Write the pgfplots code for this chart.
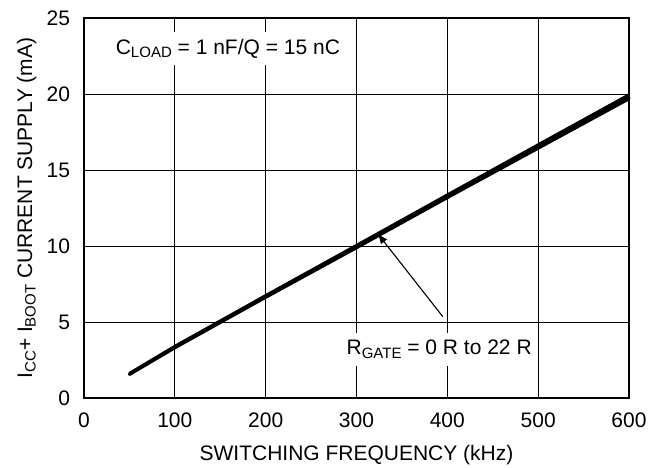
\documentclass[border=0pt]{standalone}
\usepackage{fontspec}
\setmainfont{Liberation Sans}
\usepackage{pgfplots}
\pgfplotsset{compat=1.18}
\usetikzlibrary{calc,arrows.meta}
\newcommand\sub[1]{\raisebox{-3.5pt}{\fontsize{15}{15}\selectfont #1}}
\begin{document}
\begin{tikzpicture}
\begin{axis}[
  scale only axis,
  width=545pt, height=380pt,
  xmin=0, xmax=600, ymin=0, ymax=25,
  xtick={0,100,...,600}, ytick={0,5,...,25},
  grid=major,
  major grid style={black, line width=0.8pt},
  axis line style={line width=1.4pt},
  major tick length=0pt,
  tick style={draw=none},
  /pgf/number format/assume math mode=true,
  ticklabel style={font=\fontsize{21}{24}\selectfont},
  xticklabel style={anchor=base, yshift=-29pt},
  yticklabel style={anchor=east, xshift=-10.5pt},
  label style={font=\fontsize{21}{24}\selectfont},
  xlabel={SWITCHING FREQUENCY (kHz)},
  ylabel={I\sub{CC}+ I\sub{BOOT} CURRENT SUPPLY (mA)},
  xlabel style={at={(axis description cs:0.5,-0.1632)}, anchor=base},
  ylabel style={at={(axis description cs:-0.0954,0.5)}, anchor=base, rotate=0},
  clip=false,
]
\addplot[black, line width=3.5pt, line cap=round] coordinates {
 (50,1.56) (100,3.32) (200,6.64) (300,9.9) (400,13.2) (500,16.45) (600,19.7)};
\addplot[black, line width=3.5pt] coordinates {
 (50,1.6) (100,3.38) (200,6.72) (300,10.02) (400,13.34) (500,16.64) (600,19.93)};
\node[fill=white, inner xsep=3pt, inner ysep=7pt, font=\fontsize{21}{24}\selectfont]
  at (axis cs:158.4,23.0) {C\sub{LOAD} = 1 nF/Q = 15 nC};
\node[fill=white, inner xsep=3pt, inner ysep=7pt, font=\fontsize{21}{24}\selectfont]
  at (axis cs:391,3.2) {R\sub{GATE} = 0 R to 22 R};
\draw[line width=1.1pt, -{Latex[length=10pt,width=8pt]}] (axis cs:395,5.35) -- (axis cs:323.5,10.8);
\end{axis}
\pgfresetboundingbox
\path[use as bounding box] ($(current axis.south west)+(-84pt,-69pt)$) rectangle ($(current axis.north east)+(22pt,18pt)$);
\end{tikzpicture}
\end{document}
